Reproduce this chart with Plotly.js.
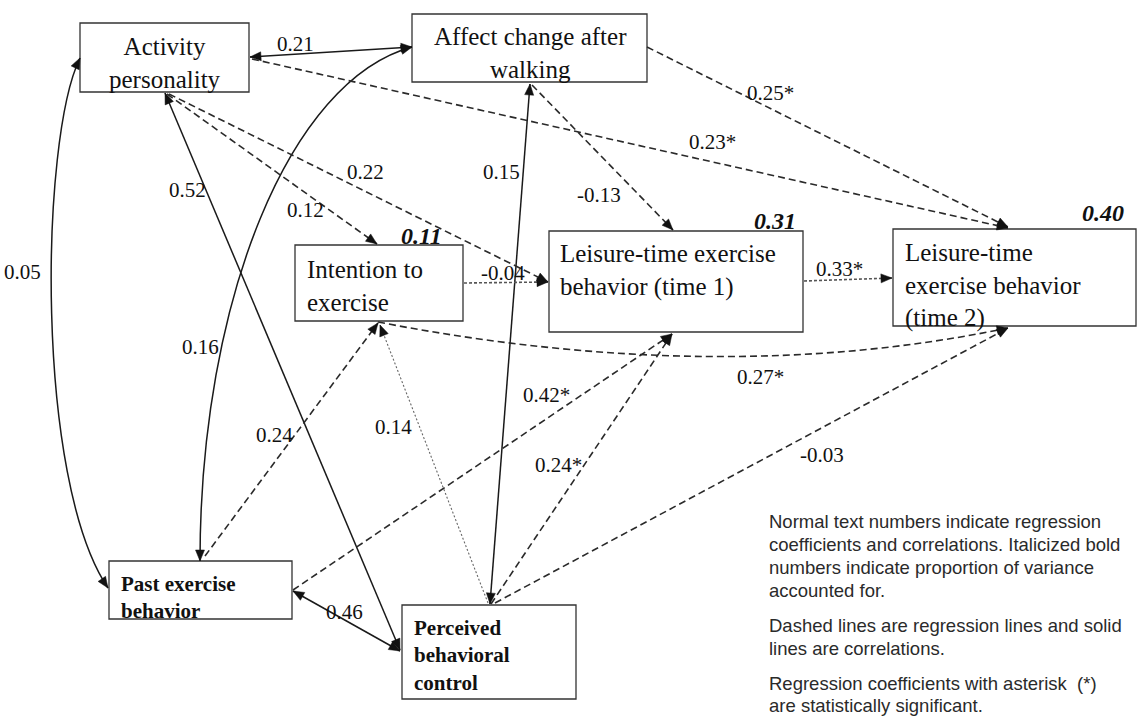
<!DOCTYPE html>
<html><head><meta charset="utf-8">
<script src="https://cdn.plot.ly/plotly-3.0.1.min.js"></script>
<style>html,body{margin:0;padding:0;background:#fff}#chart{width:1137px;height:717px}</style>
</head><body><div id="chart"></div>
<script>
// ---------- Data (text values) ----------
const nodeNames = [
  "Activity<br>personality",
  "Affect change after<br>walking",
  "Intention to<br>exercise",
  "Leisure-time exercise<br>behavior (time 1)",
  "Leisure-time<br>exercise behavior<br>(time 2)",
  "<b>Past exercise<br>behavior</b>",
  "<b>Perceived<br>behavioral<br>control</b>"
];
const varianceExplained = ["0.11", "0.31", "0.40"]; // Intention, time 1, time 2
const pathCoefficients = ["0.21","0.05","0.52","0.16","0.46","0.15","-0.13","0.25*","0.23*",
                          "0.12","0.22","-0.04","0.33*","0.27*","0.24","0.14","0.42*","0.24*","-0.03"];
const pathKinds = ["corr","corr","corr","corr","corr","corr","reg","reg","reg",
                   "reg","reg","regdot","regdot","reg","reg","regfine","reg","reg","reg"];
const noteLines = [
  "Normal text numbers indicate regression",
  "coefficients and correlations. Italicized bold",
  "numbers indicate proportion of variance",
  "accounted for.",
  "Dashed lines are regression lines and solid",
  "lines are correlations.",
  "Regression coefficients with asterisk  (*)",
  "are statistically significant."
];

// ---------- Layout geometry (positions / sizes / styles) ----------
const W = 1137, H = 717;
const boxes = [[80,23,249,92],[412,14,647,82],[295,245,463,321],[549,231,803,332],
               [893,229,1136,326],[109,561,292,619],[402,605,576,699]];
const nodeText = [ // x, y(center), anchor, size
  [164.5,63,'center',25],[530,53,'center',25],[305,286,'left',25],[558,270,'left',25],
  [903,285,'left',25],[119,597,'left',21],[412,655,'left',21]];
const edgeGeom = [
  [[250,57],[412,47]],
  [[80,58],[40,140],[35,480],[108,588]],
  [[165,93],[400,650]],
  [[200,561],[200,300],[290,80],[412,47]],
  [[293,591],[400,651]],
  [[490,604],[530,84]],
  [[532,85],[673,230]],
  [[647,47],[1008,227]],
  [[252,59],[1008,228]],
  [[167,94],[377,244]],
  [[169,94],[548,282]],
  [[464,283],[548,282]],
  [[804,281],[892,278]],
  [[378,322],[720,388],[1008,328]],
  [[205,556],[378,323]],
  [[488,603],[380,325]],
  [[293,590],[672,334]],
  [[491,604],[672,334]],
  [[495,603],[1008,328]]
];
const coefPos = [[295,44],[22,272],[187,190],[200,347],[344,612],[501,172],[599,195],[770,93],[712,142],
                 [305,210],[365,172],[503,273],[839,269],[760,377],[274,435],[393,427],[546,395],[558,465],[822,455]];
const r2Pos = [[421,236],[775,221],[1103,213]];
const noteX = 767;
const noteY = [521,544,567,590,625,648,683,705];

const styles = {
  corr:   {color:'#1a1a1a', width:1.5, dash:'solid'},
  reg:    {color:'#2a2a2a', width:1.6, dash:'7px,4px'},
  regdot: {color:'#555', width:1.6, dash:'3px,2px'},
  regfine:{color:'#666', width:1.1, dash:'2px,2px'}
};

// ---------- Build ----------
const shapes = [], annotations = [];
const pt = p => p[0] + ',' + p[1];
function pathStr(p){
  if (p.length === 2) return 'M' + pt(p[0]) + ' L' + pt(p[1]);
  if (p.length === 3) return 'M' + pt(p[0]) + ' Q' + pt(p[1]) + ' ' + pt(p[2]);
  return 'M' + pt(p[0]) + ' C' + pt(p[1]) + ' ' + pt(p[2]) + ' ' + pt(p[3]);
}
function head(tip, from, L, w){
  L = L || 11; w = w || 4.5;
  const dx = tip[0]-from[0], dy = tip[1]-from[1], n = Math.hypot(dx,dy);
  const ux = dx/n, uy = dy/n, bx = tip[0]-L*ux, by = tip[1]-L*uy, px = -uy, py = ux;
  return 'M' + tip[0] + ',' + tip[1] + ' L' + (bx+w*px) + ',' + (by+w*py) + ' L' + (bx-w*px) + ',' + (by-w*py) + ' Z';
}

boxes.forEach(b => shapes.push({type:'rect', xref:'x', yref:'y', x0:b[0], y0:b[1], x1:b[2], y1:b[3],
  line:{color:'#333', width:1.3}, fillcolor:'rgba(255,255,255,0)', layer:'above'}));

edgeGeom.forEach((g, i) => {
  const st = styles[pathKinds[i]];
  shapes.push({type:'path', xref:'x', yref:'y', path:pathStr(g), line:{color:st.color, width:st.width, dash:st.dash}});
  const n = g.length;
  shapes.push({type:'path', xref:'x', yref:'y', path:head(g[n-1], g[n-2]), fillcolor:'#111', line:{color:'#111', width:0.5}});
  if (pathKinds[i] === 'corr')
    shapes.push({type:'path', xref:'x', yref:'y', path:head(g[0], g[1]), fillcolor:'#111', line:{color:'#111', width:0.5}});
});

nodeNames.forEach((t, i) => {
  const s = nodeText[i];
  annotations.push({x:s[0], y:s[1], xref:'x', yref:'y', text:t, showarrow:false,
    xanchor:s[2], yanchor:'middle', align:s[2],
    font:{family:'Liberation Serif, Times New Roman, serif', size:s[3], color:'#111'}});
});
pathCoefficients.forEach((t, i) => annotations.push({x:coefPos[i][0], y:coefPos[i][1], xref:'x', yref:'y',
  text:t, showarrow:false, xanchor:'center', yanchor:'middle',
  font:{family:'Liberation Serif, Times New Roman, serif', size:21, color:'#111'}}));
varianceExplained.forEach((t, i) => annotations.push({x:r2Pos[i][0], y:r2Pos[i][1], xref:'x', yref:'y',
  text:'<b><i>' + t + '</i></b>', showarrow:false, xanchor:'center', yanchor:'middle',
  font:{family:'Liberation Serif, Times New Roman, serif', size:24, color:'#111'}}));
noteLines.forEach((t, i) => annotations.push({x:noteX, y:noteY[i], xref:'x', yref:'y',
  text:t, showarrow:false, xanchor:'left', yanchor:'middle',
  font:{family:'Liberation Sans, Arial, sans-serif', size:18.5, color:'#2a2a2a'}}));

const layout = {
  width:W, height:H, margin:{l:0,r:0,t:0,b:0}, paper_bgcolor:'#fff', plot_bgcolor:'#fff', showlegend:false,
  xaxis:{range:[0,W], visible:false, fixedrange:true},
  yaxis:{range:[H,0], visible:false, fixedrange:true},
  shapes:shapes, annotations:annotations
};
Plotly.newPlot('chart', [{x:[0], y:[0], mode:'markers', marker:{opacity:0}, hoverinfo:'skip'}], layout,
  {staticPlot:true, displayModeBar:false});
</script></body></html>
